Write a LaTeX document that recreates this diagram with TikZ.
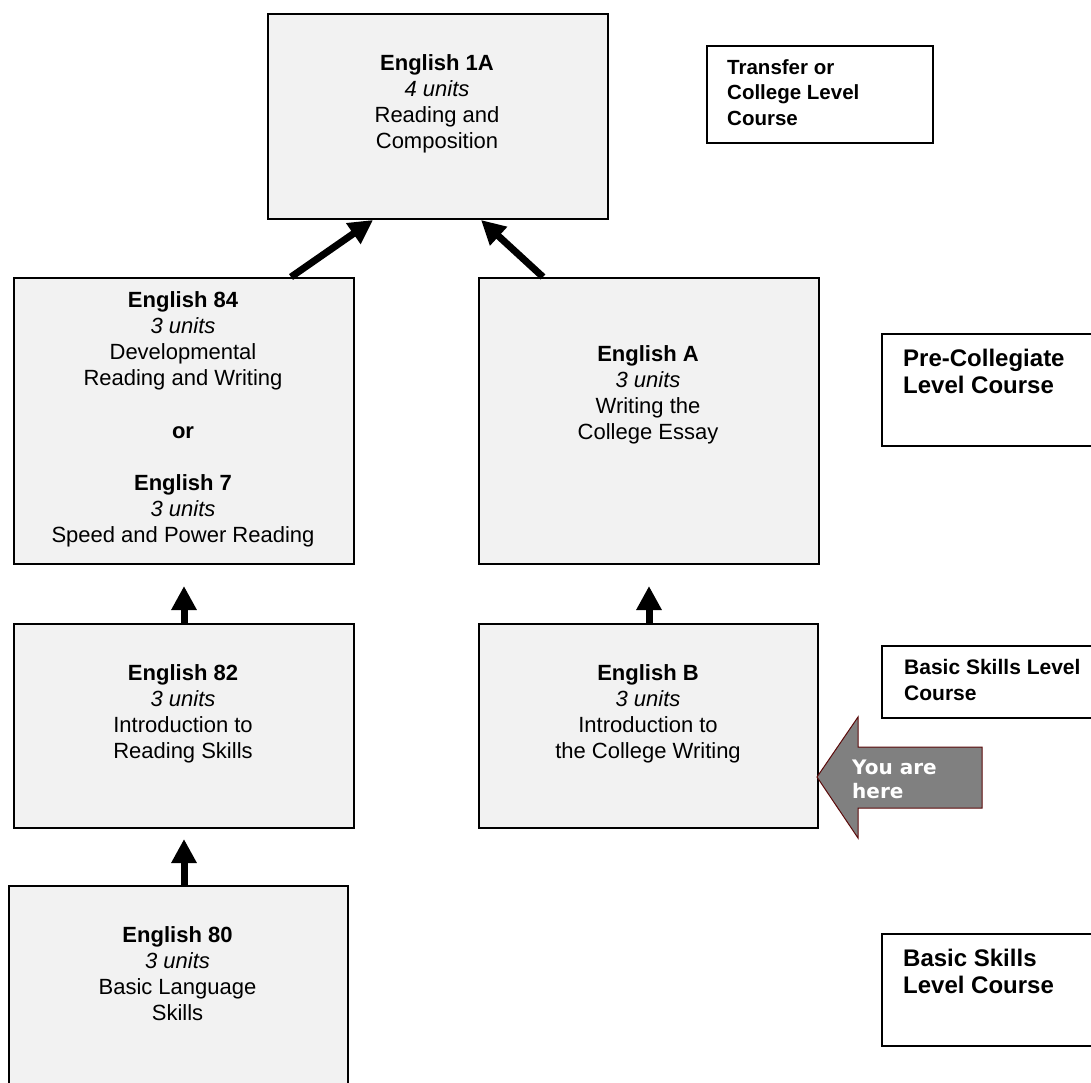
\documentclass[tikz,border=0pt]{standalone}
\usepackage{fontspec}
\setmainfont{Liberation Sans}
\newfontfamily\herefont{DejaVu Sans}
\usetikzlibrary{arrows.meta}
\definecolor{boxfill}{HTML}{F2F2F2}
\definecolor{herefill}{HTML}{808080}
\definecolor{hereline}{HTML}{5C0A0A}
\begin{document}
\begin{tikzpicture}[x=1pt,y=-1pt,
  course/.style={draw=black, line width=2pt, fill=boxfill, rectangle, inner sep=0pt, anchor=north west},
  lvlbox/.style={draw=black, line width=2pt, fill=white, rectangle, inner sep=0pt, anchor=north west},
  ctext/.style={align=center, inner sep=0pt, anchor=north, font=\fontsize{22}{26.2}\selectfont},
  ltext/.style={align=left, inner sep=0pt, anchor=north west},
  uparrow/.style={line width=7pt, -{Triangle[width=24pt,length=24pt]}}
]
\useasboundingbox (0,0) rectangle (1091,1082);
\clip (0,0) rectangle (1091,1082);

% course boxes
\node[course, minimum width=340pt, minimum height=205pt] (e1a) at (267,13) {};
\node[course, minimum width=340pt, minimum height=286pt] (e84) at (13,277) {};
\node[course, minimum width=340pt, minimum height=286pt] (eA) at (478,277) {};
\node[course, minimum width=340pt, minimum height=204pt] (e82) at (13,623) {};
\node[course, minimum width=339pt, minimum height=204pt] (eB) at (478,623) {};
\node[course, minimum width=339pt, minimum height=260pt] (e80) at (8,885) {};

% course texts
\node[ctext] (t1a) at (437,54) {\textbf{English 1A}\\\textit{4 units}\\Reading and\\Composition};
\node[ctext] (t84) at (183,291) {\textbf{English 84}\\\textit{3 units}\\Developmental\\Reading and Writing\\[26.2pt]\textbf{or}\\[26.2pt]\textbf{English 7}\\\textit{3 units}\\Speed and Power Reading};
\node[ctext] (tA) at (648,345) {\textbf{English A}\\\textit{3 units}\\Writing the\\College Essay};
\node[ctext] (t82) at (183,664) {\textbf{English 82}\\\textit{3 units}\\Introduction to\\Reading Skills};
\node[ctext] (tB) at (648,664) {\textbf{English B}\\\textit{3 units}\\Introduction to\\the College Writing};
\node[ctext] (t80) at (177.5,926) {\textbf{English 80}\\\textit{3 units}\\Basic Language\\Skills};

% level boxes
\node[lvlbox, minimum width=226pt, minimum height=97pt] (lv1) at (706,45) {};
\node[lvlbox, minimum width=230pt, minimum height=112pt] (lv2) at (881,333) {};
\node[lvlbox, minimum width=230pt, minimum height=72pt] (lv3) at (881,645) {};
\node[lvlbox, minimum width=230pt, minimum height=112pt] (lv4) at (881,933) {};

\node[ltext, font=\fontsize{20.5}{25.5}\selectfont\bfseries] (l1) at (727,59) {Transfer or\\College Level\\Course};
\node[ltext, font=\fontsize{24}{27.3}\selectfont\bfseries] (l2) at (903,348.5) {Pre-Collegiate\\Level Course};
\node[ltext, font=\fontsize{21}{26}\selectfont\bfseries] (l3) at (904,658.7) {Basic Skills Level\\Course};
\node[ltext, font=\fontsize{24}{27.3}\selectfont\bfseries] (l4) at (903,948.5) {Basic Skills\\Level Course};

% arrows
\draw[uparrow, shorten >=10pt] (e82.south |- e80.north) -- (e82.south);
\draw[uparrow, shorten >=21pt] (e84.south |- e82.north) -- (e84.south);
\draw[uparrow, shorten >=21pt] (eA.south |- eB.north) -- (eA.south);
\draw[uparrow] ([xshift=107pt]e84.north) -- ([xshift=-65pt]e1a.south);
\draw[uparrow] ([xshift=-106pt]eA.north) -- ([xshift=43pt]e1a.south);

% you are here
\draw[fill=herefill, draw=hereline, line width=1pt] (817,777) -- (858,717) -- (858,747) -- (982,747) -- (982,808) -- (858,808) -- (858,838) -- cycle;
\node[ltext, text=white, font={\herefont\bfseries\fontsize{20}{24}\selectfont}] (here) at (852,759.5) {You are\\here};
\end{tikzpicture}
\end{document}
